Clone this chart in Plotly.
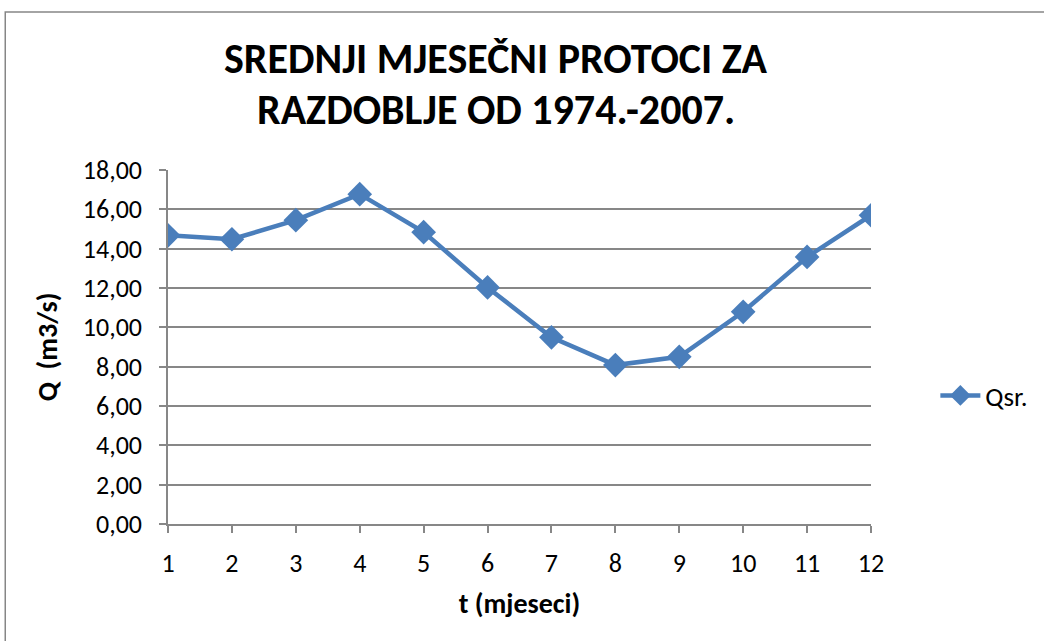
import plotly.graph_objects as go

months = list(range(1, 13))
qsr = [14.68, 14.48, 15.45, 16.77, 14.84, 12.03, 9.49, 8.08, 8.50, 10.79, 13.58, 15.70]
y_ticks = [0, 2, 4, 6, 8, 10, 12, 14, 16, 18]
y_tick_labels = ["0,00", "2,00", "4,00", "6,00", "8,00", "10,00", "12,00", "14,00", "16,00", "18,00"]

title_lines = ["SREDNJI MJESEČNI PROTOCI ZA", "RAZDOBLJE OD 1974.-2007."]
x_title = "t (mjeseci)"
y_title = "Q  (m3/s)"
series_name = "Qsr."

blue = "#4A7EBB"
grid = "#878787"
font_main = "Carlito, Calibri, 'Liberation Sans Narrow', sans-serif"

fig = go.Figure()
fig.add_trace(go.Scatter(
    x=months, y=qsr, name=series_name, mode="lines+markers",
    line=dict(color=blue, width=4.5),
    marker=dict(symbol="diamond", size=19, color=blue),
))

fig.update_layout(
    width=1044, height=641,
    margin=dict(l=168, r=172, t=170, b=117),
    paper_bgcolor="white", plot_bgcolor="white",
    showlegend=True,
    legend=dict(x=1.09, y=0.362, xanchor="left", yanchor="middle",
                font=dict(family=font_main, size=27, color="black"),
                bgcolor="rgba(0,0,0,0)", itemwidth=40),
    font=dict(family=font_main, color="black"),
)

for txt, yp in zip(title_lines, [1.316, 1.172]):
    fig.add_annotation(text=txt, xref="paper", yref="paper", x=0.467, y=yp,
                       xanchor="center", yanchor="middle", showarrow=False,
                       font=dict(family=font_main, size=42, color="black", weight="bold"))

fig.update_xaxes(
    range=[1, 12], tickmode="array", tickvals=months, ticktext=[str(m) for m in months],
    showgrid=False, showline=True, linecolor=grid, linewidth=1.5,
    ticks="outside", ticklen=7, tickcolor=grid, tickwidth=1.5,
    tickfont=dict(family=font_main, size=26, color="black"),
    ticklabelstandoff=8,
    title=dict(text=x_title, font=dict(family=font_main, size=28, color="black", weight="bold"), standoff=15),
    zeroline=False,
)
fig.update_yaxes(
    range=[0, 18], tickmode="array", tickvals=y_ticks, ticktext=y_tick_labels,
    showgrid=True, gridcolor=grid, gridwidth=1.5,
    showline=True, linecolor=grid, linewidth=1.5,
    ticks="outside", ticklen=7, tickcolor=grid, tickwidth=1.5,
    tickfont=dict(family=font_main, size=26, color="black"),
    ticklabelstandoff=12,
    title=dict(text=y_title, font=dict(family=font_main, size=28, color="black", weight="bold"), standoff=17),
    zeroline=False,
)

# outer chart-area border
fig.add_shape(type="rect", xref="paper", yref="paper",
              x0=-0.2315, x1=1.3, y0=-0.4, y1=1.446,
              line=dict(color="#868686", width=1.5), fillcolor="rgba(0,0,0,0)", layer="below")

fig.write_html("out.html", config={"displayModeBar": False},
               post_script="document.body.style.margin='0px';")
